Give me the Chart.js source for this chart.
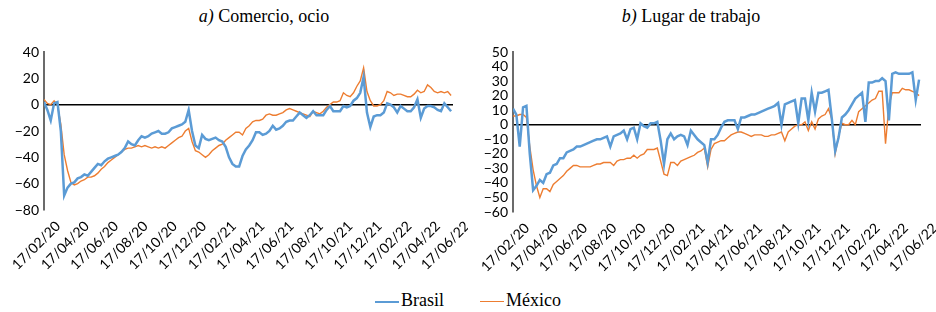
<!DOCTYPE html>
<html>
<head>
<meta charset="utf-8">
<script src="https://cdn.jsdelivr.net/npm/chart.js@4"></script>
<style>
  body { margin: 0; background: #fff; }
  #wrap { position: relative; width: 936px; height: 312px; overflow: hidden; }
  .titulo { position: absolute; top: 6px; font-family: "Liberation Serif", serif; font-size: 18px; color: #000; transform: translateX(-50%); white-space: nowrap; }
  .caja { position: absolute; top: 34px; width: 468px; height: 250px; }
  #leyenda { position: absolute; top: 290px; left: 0; width: 936px; font-family: "Liberation Serif", serif; font-size: 18px; }
  .item { position: absolute; top: 0; white-space: nowrap; }
  .linea { display: inline-block; width: 24px; vertical-align: middle; margin-right: 2px; }
</style>
</head>
<body>
<div id="wrap">
  <div class="titulo" style="left:264px"><i>a)</i> Comercio, ocio</div>
  <div class="titulo" style="left:691px"><i>b)</i> Lugar de trabajo</div>
  <div class="caja" style="left:0"><canvas id="grafico1"></canvas></div>
  <div class="caja" style="left:468px"><canvas id="grafico2"></canvas></div>
  <div id="leyenda">
    <span class="item" style="left:375px"><span class="linea" style="border-top:2.5px solid #5B9BD5"></span>Brasil</span>
    <span class="item" style="left:480px"><span class="linea" style="border-top:1.5px solid #ED7D31"></span>México</span>
  </div>
</div>
<script>
// días desde el 17/02/20, un valor por semana
const paso = 7;
const diasTicks = [0, 60, 121, 182, 243, 304, 366, 425, 486, 547, 608, 669, 731, 790, 851];
const etiquetas = ['17/02/20', '17/04/20', '17/06/20', '17/08/20', '17/10/20', '17/12/20', '17/02/21',
  '17/04/21', '17/06/21', '17/08/21', '17/10/21', '17/12/21', '17/02/22', '17/04/22', '17/06/22'];

// a) Comercio, ocio
const brasilComercio = [2, -4, -12, 1, 2, -20, -69, -63, -60, -59, -56, -55, -53, -54, -51, -48, -45, -46, -43, -41,
  -40, -39, -38, -36, -33, -28, -30, -31, -27, -24, -25, -24, -22, -21, -20, -22, -22, -21, -18, -17,
  -16, -15, -13, -4, -20, -31, -33, -23, -26, -27, -26, -25, -27, -28, -32, -40, -45, -47, -47, -39,
  -34, -31, -27, -21, -21, -23, -22, -20, -16, -19, -18, -16, -13, -12, -12, -9, -6, -8, -10, -8,
  -5, -8, -8, -8, -4, -1, -5, -5, -5, -1, -2, -1, 3, 5, 9, 21, -6, -17, -9, -8,
  -8, -6, 1, 0, -2, -6, -1, -3, -5, -5, -2, 4, -10, -3, -1, -1, -2, -4, -5, 1,
  -2, -5];
const mexicoComercio = [4, 1, 0, 3, 0, -15, -38, -50, -59, -61, -60, -58, -57, -55, -55, -54, -52, -49, -47, -44,
  -42, -40, -38, -36, -34, -33, -33, -32, -31, -32, -31, -32, -33, -32, -33, -32, -33, -31, -29, -27,
  -25, -24, -20, -18, -28, -35, -36, -38, -40, -38, -35, -33, -31, -30, -27, -25, -23, -21, -21, -23,
  -18, -16, -13, -12, -12, -11, -8, -7, -8, -8, -7, -6, -4, -3, -4, -5, -6, -7, -8, -9,
  -5, -6, -7, -5, -2, 0, 2, 2, 3, 9, 7, 6, 9, 14, 18, 28, 10, 3, -1, -1,
  0, 3, 10, 9, 7, 8, 8, 7, 6, 6, 8, 11, 9, 10, 15, 13, 10, 9, 10, 9,
  10, 7];

// b) Lugar de trabajo
const brasilTrabajo = [11, 7, -15, 12, 13, -20, -45, -42, -38, -40, -34, -33, -28, -27, -23, -23, -19, -18, -17, -15,
  -15, -14, -13, -12, -11, -10, -10, -9, -8, -15, -8, -7, -6, -4, -10, -3, -2, -10, 1, -1,
  -2, 1, 1, 2, -11, -27, -10, -6, -10, -8, -7, -8, -14, -4, -7, -10, -12, -14, -26, -10,
  -10, -7, -2, 2, 3, 3, 3, -3, 5, 5, 6, 7, 7, 8, 9, 10, 11, 12, 13, 15,
  0, 14, 15, 16, 17, 1, 18, 18, 3, 22, 9, 22, 22, 23, 24, 4, -18, -9, 5, 7,
  10, 14, 18, 20, 22, 2, 29, 29, 30, 30, 32, 30, 3, 35, 36, 35, 35, 35, 35, 36,
  17, 31];
const mexicoTrabajo = [6, 6, 7, 7, 5, -15, -31, -42, -50, -44, -44, -46, -41, -39, -37, -35, -32, -30, -28, -28,
  -29, -29, -29, -29, -28, -27, -27, -26, -26, -26, -28, -25, -24, -24, -23, -23, -21, -23, -21, -20,
  -17, -17, -17, -16, -25, -34, -35, -26, -26, -28, -25, -24, -23, -22, -21, -19, -18, -16, -29, -17,
  -13, -12, -11, -11, -9, -7, -6, -5, -5, -6, -7, -8, -7, -7, -7, -8, -8, -7, -7, -6,
  -5, -11, -5, -3, -1, 0, 0, 2, -4, 2, -3, 4, 6, 7, 11, 4, -20, -8, 1, 0,
  0, 3, 0, 9, 11, 13, 15, 17, 18, 23, 23, -13, 13, 22, 22, 22, 25, 24, 24, 23,
  22, 20];

const AZUL = '#5B9BD5';
const NARANJA = '#ED7D31';

function puntos(valores) {
    return valores.map((v, i) => ({ x: i * paso, y: v }));
}

function formato(v) {
    return v < 0 ? '\u2212' + Math.abs(v) : String(v);
}

function crear(id, brasil, mexico, minY, maxY, pasoY, anchoY, altoX) {
    const ctx = document.getElementById(id).getContext('2d');
    return new Chart(ctx, {
        type: 'line',
        data: {
            datasets: [
                { label: 'Brasil', data: puntos(brasil), borderColor: AZUL, borderWidth: 2.5, pointRadius: 0, tension: 0 },
                { label: 'México', data: puntos(mexico), borderColor: NARANJA, borderWidth: 1.4, pointRadius: 0, tension: 0 }
            ]
        },
        options: {
            responsive: false,
            animation: false,
            layout: { padding: { top: 18, right: 15, left: 0, bottom: 0 } },
            plugins: { legend: { display: false }, tooltip: { enabled: false } },
            scales: {
                x: {
                    type: 'linear',
                    min: 0,
                    max: 851,
                    afterBuildTicks: (axis) => { axis.ticks = diasTicks.map(d => ({ value: d })); },
                    afterFit: (s) => { s.height = altoX; s.paddingLeft = 0; s.paddingRight = 0; },
                    grid: { display: false },
                    border: { display: false },
                    ticks: {
                        autoSkip: false,
                        minRotation: 45,
                        maxRotation: 45,
                        labelOffset: 14,
                        padding: 0,
                        color: '#000',
                        font: { family: 'Lato', size: 14 },
                        callback: (v) => etiquetas[diasTicks.indexOf(v)]
                    }
                },
                y: {
                    min: minY,
                    max: maxY,
                    afterFit: (s) => { s.width = anchoY; },
                    grid: {
                        drawTicks: false,
                        color: (c) => c.tick && c.tick.value === 0 ? '#000' : 'rgba(0,0,0,0)',
                        lineWidth: 1.4
                    },
                    border: { display: true, color: '#6b6b6b', width: 2 },
                    ticks: {
                        stepSize: pasoY,
                        autoSkip: false,
                        padding: 5,
                        color: '#000',
                        font: { family: 'Lato', size: 14 },
                        callback: formato
                    }
                }
            }
        }
    });
}

window.addEventListener('DOMContentLoaded', () => {
    for (const id of ['grafico1', 'grafico2']) {
        const c = document.getElementById(id);
        c.width = 468;
        c.height = 250;
    }
    crear('grafico1', brasilComercio, mexicoComercio, -80, 40, 20, 44, 74);
    crear('grafico2', brasilTrabajo, mexicoTrabajo, -60, 50, 10, 45, 72);
});
</script>
</body>
</html>
